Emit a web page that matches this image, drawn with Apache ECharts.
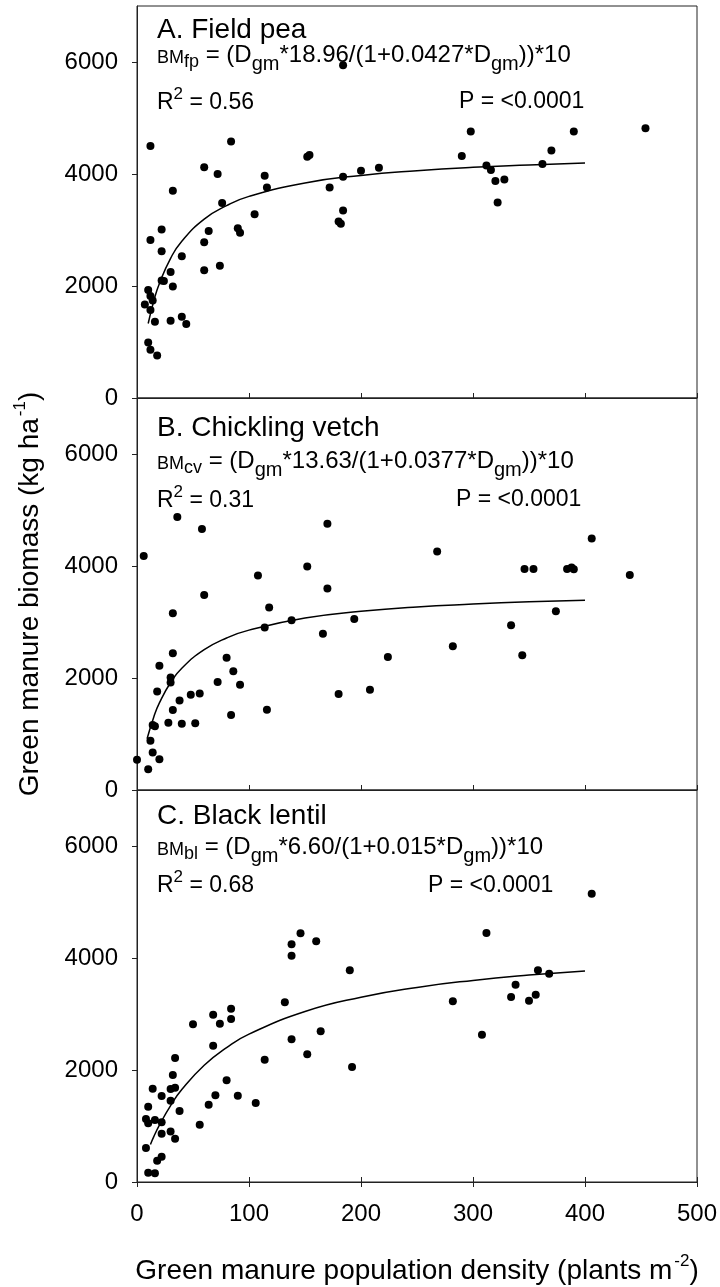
<!DOCTYPE html>
<html>
<head>
<meta charset="utf-8">
<script src="https://cdn.jsdelivr.net/npm/echarts@6/dist/echarts.min.js"></script>
<style>
  html, body { margin: 0; padding: 0; background: #fff; }
  #chart { width: 720px; height: 1287px; }
</style>
</head>
<body>
<div id="chart"></div>
<script>
// A. Field pea
const fpX = [12, 84, 60, 72, 32, 76, 114, 116, 105, 152, 154, 172, 184, 200, 216, 184, 184, 180, 182, 22,
  12, 22, 40, 64, 60, 90, 92, 60, 74, 30, 22, 24, 32, 10, 12, 14, 7, 12, 16, 30,
  40, 44, 10, 12, 18, 298, 290, 312, 316, 320, 328, 322, 362, 370, 390, 454]
const fpY = [4500, 4580, 4120, 4000, 3700, 3480, 3970, 3760, 3280, 4310, 4340, 3760, 3950, 4060, 4110, 5940, 3350, 3150, 3110, 3010,
  2820, 2620, 2530, 2980, 2780, 3030, 2950, 2280, 2360, 2250, 2100, 2090, 1990, 1930, 1820, 1740, 1670, 1570, 1360, 1380,
  1450, 1320, 990, 860, 760, 4760, 4320, 4150, 4070, 3875, 3900, 3490, 4180, 4420, 4760, 4815]
// fitted curve
const fpFitX = [10, 15, 20, 30, 40, 60, 80, 100, 150, 200, 250, 300, 350, 400]
const fpFitY = [1330, 1735, 2045, 2495, 2800, 3195, 3435, 3600, 3840, 3975, 4060, 4120, 4160, 4195]

// B. Chickling vetch
const cvX = [0, 6, 10, 12, 14, 20, 14, 16, 18, 20, 30, 30, 32, 32, 36, 28, 32, 38, 40, 48,
  52, 56, 58, 60, 72, 80, 84, 86, 92, 108, 114, 118, 116, 138, 152, 166, 170, 170, 180, 194,
  208, 224, 268, 282, 334, 344, 346, 354, 374, 384, 388, 390, 406, 440]
const cvY = [540, 4180, 370, 880, 670, 550, 1160, 1140, 1760, 2220, 2010, 1920, 2440, 3155, 4875, 1200, 1430, 1600, 1185, 1700,
  1190, 1725, 4660, 3480, 1930, 2360, 1340, 2120, 1880, 3830, 2900, 3260, 1435, 3030, 3990, 2790, 4755, 3600, 1715, 3055,
  1790, 2375, 4260, 2565, 2940, 2405, 3946, 3946, 3190, 3946, 3975, 3940, 4490, 3840]
const cvFitX = [9, 15, 20, 30, 40, 60, 80, 100, 150, 200, 250, 300, 350, 400]
const cvFitY = [915, 1305, 1555, 1920, 2175, 2505, 2715, 2855, 3070, 3190, 3270, 3320, 3360, 3390]

// C. Black lentil
const blX = [8, 10, 16, 18, 22, 8, 10, 10, 14, 16, 22, 22, 22, 30, 30, 34, 30, 34, 32, 34,
  38, 50, 56, 64, 68, 68, 70, 74, 80, 84, 84, 90, 106, 114, 132, 138, 138, 146, 138, 152,
  160, 164, 190, 192, 282, 308, 312, 334, 338, 350, 356, 358, 368, 406]
const blY = [607, 165, 155, 380, 450, 1125, 1050, 1345, 1667, 1107, 1065, 1535, 863, 1450, 1660, 1685, 900, 774, 1910, 2214,
  1268, 2815, 1024, 1380, 2988, 2435, 1548, 2827, 1815, 3095, 2910, 1542, 1410, 2185, 3208, 4244, 4040, 4440, 2548, 2280,
  4298, 2690, 3780, 2054, 3226, 2631, 4446, 3304, 3524, 3238, 3345, 3780, 3720, 5149]
const blFitX = [12, 15, 20, 30, 40, 60, 80, 100, 150, 200, 250, 300, 350, 400]
const blFitY = [670, 810, 1015, 1365, 1650, 2085, 2400, 2640, 3045, 3300, 3475, 3600, 3695, 3770]

const yTicks = [0, 2000, 4000, 6000]
const panelTitles = ['A. Field pea', 'B. Chickling vetch', 'C. Black lentil']
const eqSub = ['fp', 'cv', 'bl']
const eqCoef = ['18.96', '13.63', '6.60']
const eqK = ['0.0427', '0.0377', '0.015']
const r2 = ['0.56', '0.31', '0.68']
const pText = 'P = <0.0001'

const FONT = '"Liberation Sans", Arial, sans-serif'
const INK = '#000'
const LINE = '#222'

const zip = (xs, ys) => xs.map((x, i) => [x, ys[i]])
const scatterSets = [zip(fpX, fpY), zip(cvX, cvY), zip(blX, blY)]
const fitSets = [zip(fpFitX, fpFitY), zip(cvFitX, cvFitY), zip(blFitX, blFitY)]

const gridTops = [6, 398, 790]
const supRich = {
  n: { fontSize: 28, fontFamily: FONT, color: INK, verticalAlign: 'bottom' },
  sup: { fontSize: 17, fontFamily: FONT, color: INK, verticalAlign: 'bottom', padding: [0, 0, 15, 2] }
}

const chart = echarts.init(document.getElementById('chart'))

const grids = gridTops.map((t) => ({
  left: 137,
  width: 560,
  top: t,
  height: 392,
  show: true,
  borderColor: LINE,
  borderWidth: 1,
  containLabel: false,
  outerBoundsMode: 'none'
}))

const xAxes = [0, 1, 2].map((i) => ({
  gridIndex: i,
  type: 'value',
  position: 'bottom',
  min: 0,
  max: 500,
  interval: 100,
  splitLine: { show: false },
  axisLine: { show: true, onZero: false, lineStyle: { color: LINE, width: 1 } },
  axisTick: { show: true, inside: i < 2, length: 5, lineStyle: { color: LINE, width: 1 } },
  axisLabel: {
    show: i === 2,
    fontSize: 24,
    fontFamily: FONT,
    color: INK,
    margin: 20,
    formatter: (v) => String(v)
  },
  name: i === 2 ? '{n|Green manure population density (plants m}{sup|-2}{n|)}' : '',
  nameLocation: 'middle',
  nameGap: 71,
  nameMoveOverlap: false,
  nameTextStyle: { rich: supRich }
}))
// inner half of the crossing ticks on the bottom panel
xAxes.push({
  gridIndex: 2,
  type: 'value',
  position: 'bottom',
  min: 0,
  max: 500,
  interval: 100,
  splitLine: { show: false },
  axisLine: { show: false, onZero: false },
  axisTick: { show: true, inside: true, length: 5, lineStyle: { color: LINE, width: 1 } },
  axisLabel: { show: false }
})

const yAxes = [0, 1, 2].map((i) => ({
  gridIndex: i,
  type: 'value',
  min: 0,
  max: 7000,
  splitLine: { show: false },
  axisLine: { show: true, onZero: false, lineStyle: { color: LINE, width: 1 } },
  axisTick: { show: true, length: 5, customValues: yTicks, lineStyle: { color: LINE, width: 1 } },
  axisLabel: {
    customValues: yTicks,
    fontSize: 24,
    fontFamily: FONT,
    color: INK,
    margin: 19,
    formatter: (v) => String(v)
  },
  name: i === 1 ? '{n|Green manure biomass (kg ha}{sup|-1}{n|)}' : '',
  nameLocation: 'middle',
  nameGap: 93,
  nameMoveOverlap: false,
  nameTextStyle: { rich: supRich }
}))

const series = []
for (let i = 0; i < 3; i++) {
  series.push({
    type: 'scatter',
    xAxisIndex: i,
    yAxisIndex: i,
    symbol: 'circle',
    symbolSize: 8,
    itemStyle: { color: INK, opacity: 1 },
    emphasis: { disabled: true },
    data: scatterSets[i]
  })
  series.push({
    type: 'line',
    xAxisIndex: i,
    yAxisIndex: i,
    smooth: true,
    showSymbol: false,
    lineStyle: { color: INK, width: 1.5 },
    emphasis: { disabled: true },
    data: fitSets[i]
  })
}

// panel annotations: [title y, equation top, R2 top, P x, P y]
const notePos = [
  [30, 43, 86, 459, 102],
  [428, 449, 484, 456, 500],
  [816, 835, 869, 428, 886]
]
const eqRich = {
  n: { fontSize: 24, fontFamily: FONT, color: INK, verticalAlign: 'bottom', padding: [0, 0, 8, 0] },
  bm: { fontSize: 18, fontFamily: FONT, color: INK, verticalAlign: 'bottom', padding: [0, 0, 8, 0] },
  sb: { fontSize: 18, fontFamily: FONT, color: INK, verticalAlign: 'bottom', padding: [0, 0, 4, 0] },
  gm: { fontSize: 20, fontFamily: FONT, color: INK, verticalAlign: 'bottom', padding: [0, 0, 1, 0] }
}
const rRich = {
  n: { fontSize: 23, fontFamily: FONT, color: INK, verticalAlign: 'bottom' },
  sup: { fontSize: 17, fontFamily: FONT, color: INK, verticalAlign: 'bottom', padding: [0, 0, 11, 0] }
}
const graphics = []
for (let i = 0; i < 3; i++) {
  const p = notePos[i]
  graphics.push({
    type: 'text', x: 157, y: p[0],
    style: { text: panelTitles[i], font: '28px ' + FONT, fill: INK, verticalAlign: 'middle' }
  })
  graphics.push({
    type: 'text', x: 157, y: p[1],
    style: {
      text: '{bm|BM}{sb|' + eqSub[i] + '}{n| = (D}{gm|gm}{n|*' + eqCoef[i] + '/(1+' + eqK[i] + '*D}{gm|gm}{n|))*10}',
      rich: eqRich, verticalAlign: 'top'
    }
  })
  graphics.push({
    type: 'text', x: 157, y: p[2],
    style: { text: '{n|R}{sup|2}{n| = ' + r2[i] + '}', rich: rRich, verticalAlign: 'top' }
  })
  graphics.push({
    type: 'text', x: p[3], y: p[4],
    style: { text: pText, font: '23px ' + FONT, fill: INK, verticalAlign: 'middle' }
  })
}

chart.setOption({
  animation: false,
  backgroundColor: '#fff',
  textStyle: { fontFamily: FONT },
  grid: grids,
  xAxis: xAxes,
  yAxis: yAxes,
  series: series,
  graphic: graphics
})
</script>
</body>
</html>
